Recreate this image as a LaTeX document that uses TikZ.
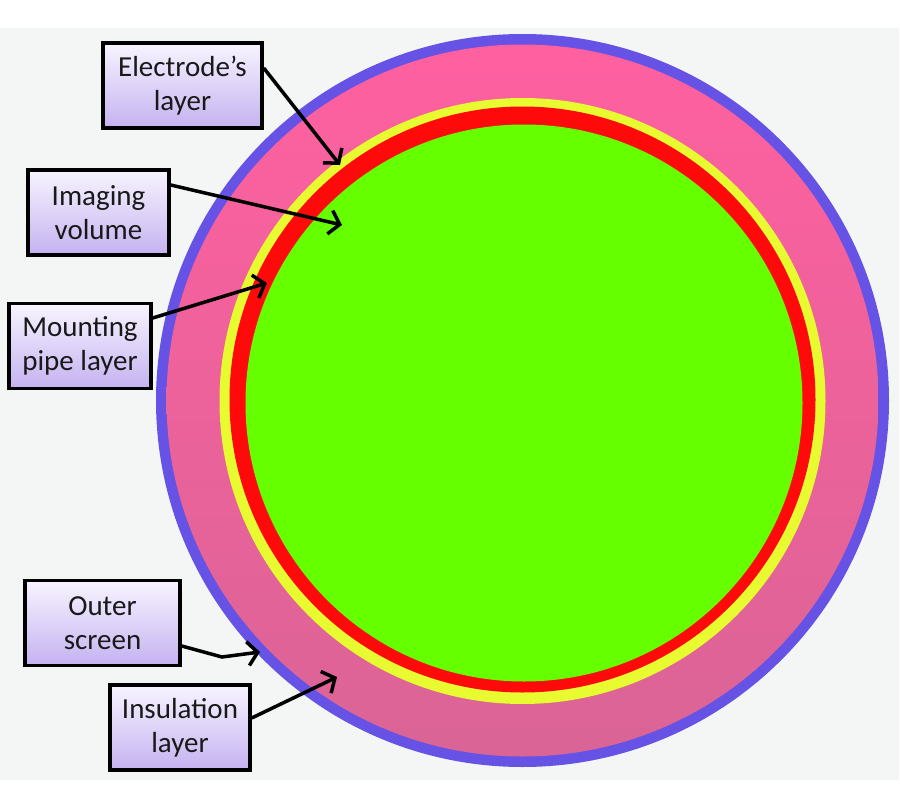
\documentclass[tikz,border=0pt]{standalone}
\usepackage{fontspec}
\setmainfont{Carlito}
\usetikzlibrary{arrows.meta}
\definecolor{bggray}{RGB}{244,246,246}
\definecolor{ringblue}{RGB}{102,82,228}
\definecolor{pinktop}{RGB}{255,96,160}
\definecolor{pinkbot}{RGB}{218,100,150}
\definecolor{ringyellow}{RGB}{232,250,48}
\definecolor{ringred}{RGB}{255,10,10}
\definecolor{coregreen}{RGB}{102,255,0}
\definecolor{boxtop}{RGB}{248,244,255}
\definecolor{boxbot}{RGB}{196,178,240}
\definecolor{txt}{RGB}{25,25,25}
\tikzset{
  labelbox/.style={draw=black, line width=3.5pt, top color=boxtop, bottom color=boxbot,
    align=center, inner sep=2pt, minimum height=85pt, text=txt,
    font=\fontsize{29}{34}\selectfont},
  pointer/.style={draw=black, line width=3.5pt, -{Straight Barb[length=10pt,width=24pt,line width=3.5pt]}}
}
\begin{document}
\begin{tikzpicture}[x=1pt,y=-1pt]
\useasboundingbox (0,0) rectangle (900,800);
\fill[bggray] (0,28) rectangle (899,780);
% rings
\fill[ringblue] (522.5,400.5) circle[radius=366.5];
\shade[top color=pinktop, bottom color=pinkbot] (522.5,400.5) circle[radius=356];
\fill[ringyellow] (522.5,401) circle[radius=303];
\fill[ringred] (522.5,399.5) circle[radius=293];
\fill[coregreen] (524,403) circle[radius=278.5];
% labels
\node[labelbox, minimum width=159pt] (el) at (182.5,85.5) {Electrode’s\\layer};
\node[labelbox, minimum width=141pt] (iv) at (98.5,212.5) {Imaging\\volume};
\node[labelbox, minimum width=142pt] (mp) at (80,346) {Mounting\\pipe layer};
\node[labelbox, minimum width=155pt] (os) at (102.5,623) {Outer\\screen};
\node[labelbox, minimum width=140pt] (il) at (180,727.5) {Insulation\\layer};
% arrow ends
\coordinate (elT) at (340,165);
\coordinate (ivT) at (342,225);
\coordinate (mpT) at (267,283);
\coordinate (osB) at (222,657);
\coordinate (osT) at (260,652);
\coordinate (ilT) at (337,677);
\draw[pointer] ([yshift=17.5pt]el.east) -- (elT);
\draw[pointer] ([yshift=27.5pt]iv.east) -- (ivT);
\draw[pointer] ([yshift=28pt]mp.east) -- (mpT);
\draw[pointer] ([yshift=-23pt]os.east) -- (osB) -- (osT);
\draw[pointer] ([yshift=9.5pt]il.east) -- (ilT);
\end{tikzpicture}
\end{document}
